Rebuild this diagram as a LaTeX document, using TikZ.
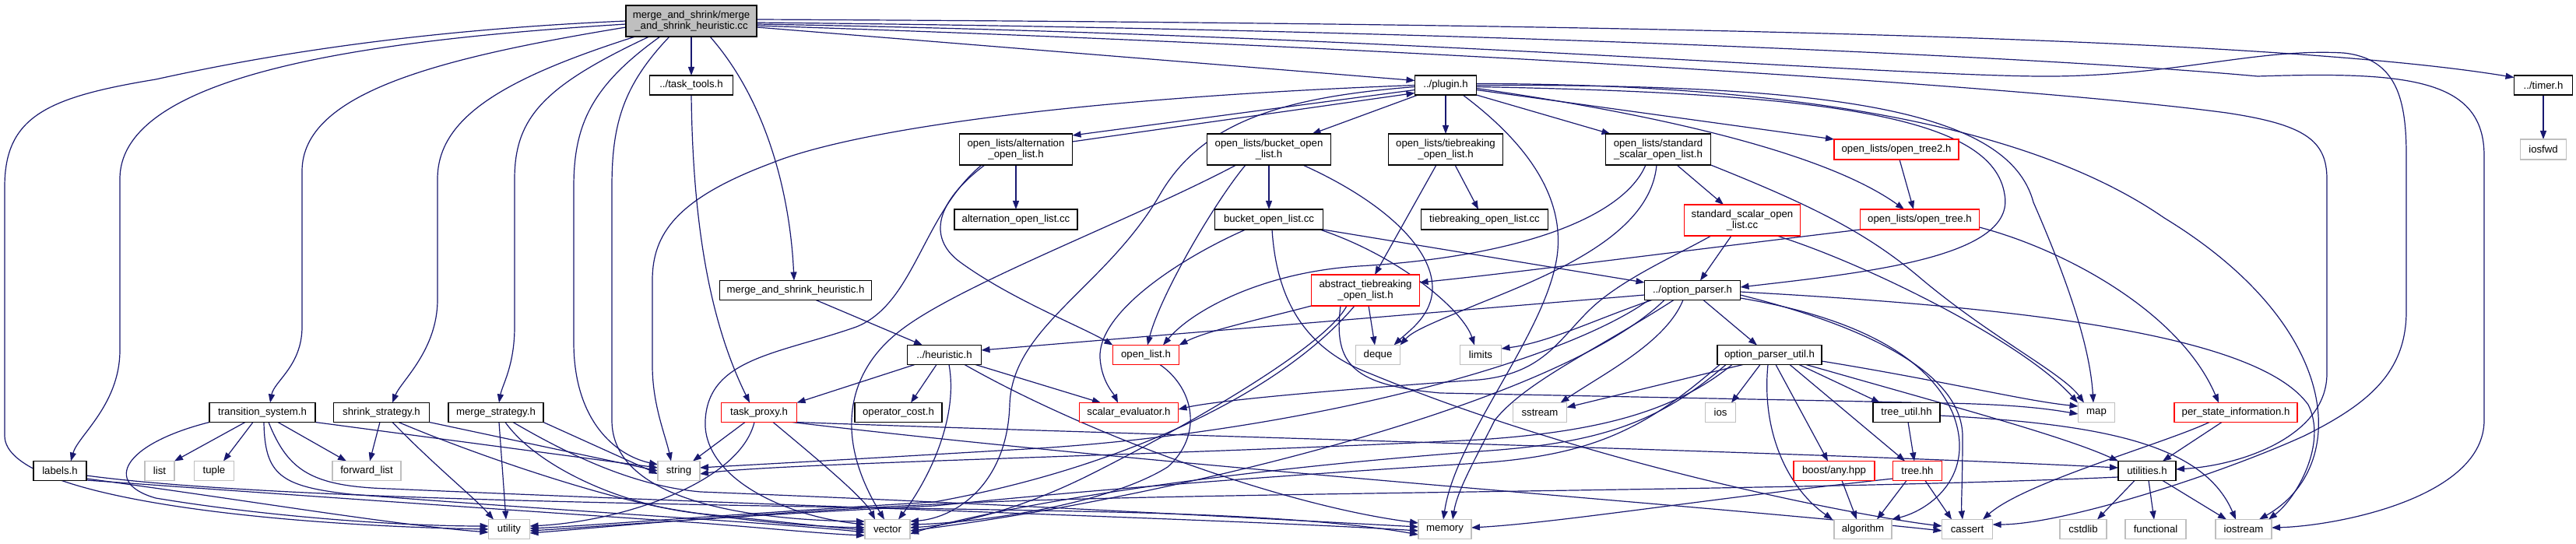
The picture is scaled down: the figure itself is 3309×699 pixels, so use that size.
\documentclass[tikz,border=0pt]{standalone}
\usepackage{fontspec}
\setmainfont{Liberation Sans}
\usetikzlibrary{arrows.meta}
\definecolor{edgec}{HTML}{191970}
\definecolor{grayb}{HTML}{BFBFBF}
\definecolor{redb}{HTML}{FF0000}
\newcommand{\dnf}{\fontsize{6.6pt}{7.3pt}\selectfont}
\pgfdeclarelayer{bg}
\pgfsetlayers{bg,main}
\begin{document}
\begin{tikzpicture}[x=0.5pt,y=-0.5pt,
  box/.style={draw, fill=white, inner sep=0pt, outer sep=0pt, line width=0.7pt, align=center, font=\dnf, minimum height=12.5pt},
  nb/.style={box, draw=black},
  gb/.style={box, draw=grayb},
  rb/.style={box, draw=redb},
  rootb/.style={box, draw=black, fill=grayb},
  dep/.style={draw=edgec, line width=0.6pt, -{Triangle[length=5.5pt,width=4pt]}}]
\useasboundingbox (0,0) rectangle (3309,699);
% nodes
\node[rootb, minimum width=84pt, minimum height=20pt] (root) at (888,27) {merge\_and\_shrink/merge\\\_and\_shrink\_heuristic.cc};
\node[nb, minimum width=53.5pt] (tasktools) at (888,109.5) {../task\_tools.h};
\node[nb, minimum width=39.5pt] (plugin) at (1857,109.5) {../plugin.h};
\node[nb, minimum width=37.5pt] (timer) at (3267,109.5) {../timer.h};
\node[gb, minimum width=29.5pt, minimum height=13pt] (iosfwd) at (3267,192) {iosfwd};
\node[nb, minimum width=72.5pt, minimum height=20pt] (alth) at (1305,192) {open\_lists/alternation\\\_open\_list.h};
\node[nb, minimum width=79.5pt, minimum height=20pt] (bucketh) at (1630,192) {open\_lists/bucket\_open\\\_list.h};
\node[nb, minimum width=73.5pt, minimum height=20pt] (tieh) at (1857,192) {open\_lists/tiebreaking\\\_open\_list.h};
\node[nb, minimum width=67.5pt, minimum height=20pt] (stdh) at (2130,192) {open\_lists/standard\\\_scalar\_open\_list.h};
\node[rb, minimum width=80pt, minimum height=13pt] (tree2) at (2436,192) {open\_lists/open\_tree2.h};
\node[nb, minimum width=79pt, minimum height=13pt] (altcc) at (1305,282) {alternation\_open\_list.cc};
\node[nb, minimum width=69.5pt, minimum height=13pt] (bucketcc) at (1630,282) {bucket\_open\_list.cc};
\node[nb, minimum width=81.5pt, minimum height=13pt] (tiecc) at (1907,282) {tiebreaking\_open\_list.cc};
\node[rb, minimum width=74.5pt, minimum height=20pt] (stdcc) at (2238,283) {standard\_scalar\_open\\\_list.cc};
\node[rb, minimum width=76.5pt, minimum height=13pt] (tree) at (2466,282) {open\_lists/open\_tree.h};
\node[nb, minimum width=97.5pt] (mshh) at (1022,373) {merge\_and\_shrink\_heuristic.h};
\node[rb, minimum width=69.5pt, minimum height=20pt] (absh) at (1754,373) {abstract\_tiebreaking\\\_open\_list.h};
\node[nb, minimum width=61.5pt] (optparser) at (2174,373) {../option\_parser.h};
\node[nb, minimum width=47.5pt] (heuristic) at (1213,456) {../heuristic.h};
\node[rb, minimum width=42.5pt] (openlist) at (1472,456) {open\_list.h};
\node[gb, minimum width=28.5pt] (deque) at (1770,456) {deque};
\node[gb, minimum width=26.5pt] (limits) at (1902,456) {limits};
\node[nb, minimum width=67pt] (optutil) at (2273,456) {option\_parser\_util.h};
\node[nb, minimum width=68pt] (ts) at (337,530) {transition\_system.h};
\node[nb, minimum width=61.5pt] (shrink) at (490,530) {shrink\_strategy.h};
\node[nb, minimum width=61pt] (merge) at (637,530) {merge\_strategy.h};
\node[rb, minimum width=48.5pt] (taskproxy) at (975,530) {task\_proxy.h};
\node[nb, minimum width=56pt] (opcost) at (1154,530) {operator\_cost.h};
\node[rb, minimum width=63.5pt] (scalar) at (1450,530) {scalar\_evaluator.h};
\node[gb, minimum width=34.5pt] (sstream) at (1978,530) {sstream};
\node[gb, minimum width=19.5pt] (ios) at (2210,530) {ios};
\node[nb, minimum width=43pt] (treeutil) at (2449,530) {tree\_util.hh};
\node[gb, minimum width=23.5pt] (map) at (2693,530) {map};
\node[rb, minimum width=79pt] (psi) at (2872,530) {per\_state\_information.h};
\node[nb, minimum width=34pt] (labels) at (77,605) {labels.h};
\node[gb, minimum width=19pt] (list) at (205,605) {list};
\node[gb, minimum width=25.5pt] (tuple) at (275,605) {tuple};
\node[gb, minimum width=44pt] (fwdlist) at (471,605) {forward\_list};
\node[gb, minimum width=27pt] (string) at (872,605) {string};
\node[rb, minimum width=52pt] (boostany) at (2356,605) {boost/any.hpp};
\node[rb, minimum width=31.5pt] (treehh) at (2463,605) {tree.hh};
\node[nb, minimum width=37pt] (utilities) at (2758,605) {utilities.h};
\node[gb, minimum width=26.5pt] (utility) at (654,680) {utility};
\node[gb, minimum width=29pt] (vector) at (1140,680) {vector};
\node[gb, minimum width=34pt] (memory) at (1856,680) {memory};
\node[gb, minimum width=37pt] (algorithm) at (2393,680) {algorithm};
\node[gb, minimum width=32.5pt] (cassert) at (2527,680) {cassert};
\node[gb, minimum width=30pt] (cstdlib) at (2676,680) {cstdlib};
\node[gb, minimum width=39pt] (functional) at (2769,680) {functional};
\node[gb, minimum width=36pt] (iostream) at (2882,680) {iostream};
\begin{pgfonlayer}{bg}
\fill[white] (0,0) rectangle (3309,699);
% root
\draw[dep] (root.west) .. controls (500,40) and (300,80) .. (200,102) .. controls (60,125) and (6,150) .. (6,240) -- (6,560) .. controls (6,640) and (350,675) .. (utility.west);
\draw[dep] ([yshift=-2pt]root.west) .. controls (500,50) and (154,90) .. (154,230) -- (154,450) .. controls (154,520) and (100,560) .. ([xshift=7pt]labels.north);
\draw[dep] ([yshift=-4pt]root.west) .. controls (560,75) and (388,120) .. (388,220) -- (388,420) .. controls (388,470) and (352,490) .. ([xshift=5pt]ts.north);
\draw[dep] ([xshift=6pt]root.south west) .. controls (650,100) and (562,150) .. (562,230) -- (562,385) .. controls (562,450) and (515,490) .. ([xshift=7pt]shrink.north);
\draw[dep] ([xshift=15pt]root.south west) .. controls (700,110) and (661,150) .. (661,230) -- (661,420) .. controls (661,470) and (645,495) .. ([xshift=2pt]merge.north);
\draw[dep] ([xshift=22pt]root.south west) .. controls (760,110) and (737,160) .. (737,240) -- (737,440) .. controls (737,540) and (790,585) .. ([yshift=4pt]string.west);
\draw[dep] ([xshift=28pt]root.south west) .. controls (800,110) and (786,160) .. (786,240) -- (786,540) .. controls (786,640) and (950,668) .. ([yshift=5pt]vector.west);
\draw[dep] (root.south) -- (tasktools.north);
\draw[dep] ([xshift=12pt]root.south) .. controls (985,130) and (1015,250) .. ([xshift=-1pt]mshh.north);
\draw[dep] ([yshift=-4pt]root.east) -- ([yshift=3pt]plugin.west);
\draw[dep] ([yshift=1pt]root.east) .. controls (2000,30) and (2900,45) .. ([yshift=5pt]timer.west);
\draw[dep] ([yshift=-1pt]root.east) .. controls (1900,38) and (2650,75) .. (2900,98) .. controls (3090,92) and (3191,100) .. (3191,200) -- (3191,540) .. controls (3191,640) and (3000,676) .. ([yshift=1pt]iostream.east);
\draw[dep] ([yshift=-2pt]root.east) .. controls (1800,45) and (2450,100) .. (2640,98) .. controls (2800,96) and (2900,62) .. (3010,68) .. controls (3080,75) and (3091,130) .. (3091,200) -- (3091,400) .. controls (3091,480) and (3040,520) .. (2960,560) .. controls (2850,610) and (2650,674) .. ([yshift=3pt]cassert.east);
\draw[dep] ([yshift=-3pt]root.east) .. controls (1800,60) and (2600,110) .. (2860,145) .. controls (2960,160) and (2989,180) .. (2989,230) -- (2989,480) .. controls (2989,560) and (2880,598) .. ([yshift=1pt]utilities.east);
% misc
\draw[dep] (timer.south) -- (iosfwd.north);
\draw[dep] (tasktools.south) .. controls (890,300) and (915,420) .. ([xshift=-6pt]taskproxy.north);
\draw[dep] ([xshift=13pt]mshh.south) -- ([xshift=-14pt]heuristic.north);
% plugin
\draw[dep] ([yshift=-3pt]plugin.west) -- ([yshift=-1pt]alth.north east);
\draw[dep] ([yshift=-5pt]alth.north east) -- ([yshift=-5pt]plugin.west);
\draw[dep] ([xshift=2pt]plugin.south west) -- ([xshift=-12pt]bucketh.north east);
\draw[dep] (plugin.south) -- (tieh.north);
\draw[dep] (plugin.south east) -- ([xshift=3pt]stdh.north west);
\draw[dep] ([yshift=-3pt]plugin.east) -- (tree2.north west);
\draw[dep] ([yshift=-2pt]plugin.east) .. controls (2150,150) and (2350,200) .. ([xshift=-10pt]tree.north);
\draw[dep] ([yshift=-1pt]plugin.east) .. controls (2350,120) and (2560,150) .. (2575,250) .. controls (2590,330) and (2400,350) .. ([yshift=2pt]optparser.east);
\draw[dep] (plugin.west) .. controls (1400,125) and (1100,165) .. (990,210) .. controls (870,255) and (838,300) .. (838,360) -- (838,470) .. controls (838,520) and (855,560) .. ([xshift=-5pt]string.north);
\draw[dep] ([yshift=-1pt]plugin.west) .. controls (1650,125) and (1545,155) .. (1490,250) .. controls (1420,370) and (1300,420) .. (1297,520) .. controls (1294,620) and (1230,665) .. ([yshift=5pt]vector.east);
\draw[dep] ([xshift=11pt]plugin.south) .. controls (1970,190) and (2010,260) .. (2000,330) .. controls (1985,430) and (1870,560) .. ([xshift=-1pt]memory.north);
\draw[dep] (plugin.east) .. controls (2350,108) and (2580,140) .. (2612,260) .. controls (2660,370) and (2685,450) .. ([xshift=-2pt]map.north);
\draw[dep] ([yshift=1pt]plugin.east) .. controls (2400,108) and (2650,190) .. (2780,280) .. controls (3010,420) and (3020,600) .. ([xshift=10pt]iostream.north);
% alternation
\draw[dep] (alth.south) -- (altcc.north);
\draw[dep] ([xshift=-20pt]alth.south) .. controls (1195,265) and (1195,310) .. (1235,338) .. controls (1300,385) and (1390,420) .. (openlist.north west);
\draw[dep] ([xshift=-22pt]alth.south) .. controls (1185,275) and (1175,390) .. (1100,420) .. controls (1000,455) and (910,460) .. (906,540) .. controls (902,610) and (1000,662) .. ([yshift=3pt]vector.west);
% bucket
\draw[dep] (bucketh.south) -- (bucketcc.north);
\draw[dep] ([xshift=-15pt]bucketh.south) .. controls (1560,260) and (1490,380) .. ([xshift=1pt]openlist.north);
\draw[dep] ([xshift=-21pt]bucketh.south) .. controls (1450,285) and (1220,370) .. (1150,430) .. controls (1090,480) and (1070,560) .. ([xshift=-2pt]vector.north);
\draw[dep] ([xshift=-18pt]bucketh.south east) .. controls (1780,260) and (1840,320) .. (1840,370) .. controls (1840,405) and (1810,425) .. ([xshift=-4pt]deque.north east);
\draw[dep] (bucketcc.south east) -- ([yshift=5pt]optparser.west);
\draw[dep] ([xshift=-15pt]bucketcc.south) .. controls (1520,330) and (1410,400) .. (1413,460) .. controls (1415,490) and (1430,505) .. ([xshift=-7pt]scalar.north);
\draw[dep] ([xshift=-2pt]bucketcc.south east) .. controls (1800,330) and (1880,400) .. ([xshift=-4pt]limits.north);
\draw[dep] ([xshift=2pt]bucketcc.south) .. controls (1640,390) and (1680,450) .. (1760,480) .. controls (2050,600) and (2400,665) .. ([yshift=2pt]cassert.west);
% tiebreaking
\draw[dep] ([xshift=6pt]tieh.south) -- ([xshift=-4pt]tiecc.north);
\draw[dep] ([xshift=-6pt]tieh.south) -- ([xshift=6pt]absh.north);
% standard scalar
\draw[dep] ([xshift=12pt]stdh.south) -- ([xshift=-12pt]stdcc.north);
\draw[dep] ([xshift=-8pt]stdh.south) .. controls (2085,280) and (1950,330) .. (1745,342) .. controls (1620,350) and (1530,400) .. ([xshift=11pt]openlist.north);
\draw[dep] ([xshift=-1pt]stdh.south) .. controls (2120,300) and (2000,350) .. (1900,390) .. controls (1840,415) and (1815,425) .. (deque.north east);
\draw[dep] (stdh.south east) .. controls (2330,265) and (2400,300) .. (2470,360) .. controls (2560,435) and (2650,480) .. ([xshift=-8pt]map.north);
\draw[dep] ([xshift=-7pt]stdcc.south) -- ([xshift=5pt]optparser.north);
\draw[dep] ([xshift=-15pt]stdcc.south east) .. controls (2400,340) and (2600,440) .. ([xshift=-12pt]map.north);
\draw[dep] ([xshift=-20pt]stdcc.south) .. controls (2150,330) and (2080,360) .. (2040,400) .. controls (2000,440) and (1980,480) .. (1900,488) .. controls (1700,502) and (1560,515) .. ([yshift=2pt]scalar.east);
% trees
\draw[dep] ([xshift=2pt]tree2.south) -- ([xshift=-4pt]tree.north);
\draw[dep] (tree.south west) .. controls (2100,330) and (1950,350) .. ([yshift=5pt]absh.east);
\draw[dep] ([yshift=-5pt]tree.east) .. controls (2650,320) and (2800,400) .. ([xshift=-11pt]psi.north);
% abstract tiebreaking
\draw[dep] (absh.south west) .. controls (1620,410) and (1550,425) .. (openlist.north east);
\draw[dep] ([xshift=2pt]absh.south) -- ([xshift=-2pt]deque.north);
\draw[dep] ([xshift=-12pt]absh.south) .. controls (1700,450) and (1500,560) .. (1400,610) .. controls (1300,660) and (1220,675) .. ([yshift=1pt]vector.east);
\draw[dep] ([xshift=-7pt]absh.south) .. controls (1650,500) and (1450,600) .. (1200,645) .. controls (950,660) and (750,676) .. ([yshift=0.5pt]utility.east);
\draw[dep] ([xshift=-16pt]absh.south) .. controls (1712,470) and (1740,495) .. (1850,505) -- (2500,518) .. controls (2600,520) and (2640,527) .. ([yshift=-1pt]map.west);
% option parser
\draw[dep] ([yshift=-3pt]optparser.west) -- ([yshift=3pt]heuristic.east);
\draw[dep] ([xshift=7pt]optparser.south) -- ([xshift=-8pt]optutil.north);
\draw[dep] ([xshift=-28pt]optparser.south) .. controls (2000,470) and (1650,560) .. (1300,578) .. controls (1100,590) and (950,598) .. ([yshift=2pt]string.east);
\draw[dep] ([xshift=-26pt]optparser.south) .. controls (2050,410) and (1990,440) .. ([yshift=4pt]limits.east);
\draw[dep] ([xshift=-18pt]optparser.south) .. controls (2000,520) and (1500,640) .. ([yshift=-1pt]vector.east);
\draw[dep] ([xshift=-12pt]optparser.south) .. controls (2050,450) and (1960,490) .. (1920,540) .. controls (1895,590) and (1872,630) .. ([xshift=5pt]memory.north);
\draw[dep] ([xshift=-6pt]optparser.south) .. controls (2140,440) and (2060,480) .. ([xshift=-4pt]sstream.north east);
\draw[dep] ([yshift=-1pt]optparser.east) .. controls (2600,395) and (2900,430) .. (2965,520) .. controls (2990,570) and (2950,640) .. ([xshift=16pt]iostream.north);
\draw[dep] ([yshift=-3pt]optparser.east) .. controls (2400,420) and (2520,480) .. (2521,560) .. controls (2521,620) and (2519,650) .. ([xshift=-3pt]cassert.north);
\draw[dep] ([yshift=-5pt]optparser.east) .. controls (2355,403) and (2470,445) .. (2508,530) .. controls (2540,610) and (2480,655) .. (algorithm.north east);
% option parser util
\draw[dep] ([xshift=-6pt]optutil.south) -- ([xshift=7pt]ios.north);
\draw[dep] ([xshift=-17pt]optutil.south) -- ([yshift=-3pt]sstream.north east);
\draw[dep] ([xshift=19pt]optutil.south) -- ([xshift=-17pt]treeutil.north);
\draw[dep] ([xshift=4pt]optutil.south) -- ([xshift=-4pt]boostany.north);
\draw[dep] ([xshift=13pt]optutil.south) -- ([xshift=-8pt]treehh.north);
\draw[dep] ([xshift=-1pt]optutil.south) .. controls (2262,560) and (2300,630) .. ([xshift=-1pt]algorithm.north west);
\draw[dep] ([yshift=-4pt]optutil.east) .. controls (2500,490) and (2600,515) .. ([yshift=4pt]map.west);
\draw[dep] ([xshift=-10pt]optutil.south east) .. controls (2500,520) and (2650,560) .. (utilities.north west);
\draw[dep] ([xshift=-24pt]optutil.south) .. controls (2150,530) and (2050,555) .. (1900,565) .. controls (1500,585) and (1000,595) .. ([yshift=-2pt]string.east);
\draw[dep] ([xshift=-28pt]optutil.south) .. controls (2130,545) and (2050,570) .. (1900,580) .. controls (1500,610) and (1250,660) .. ([yshift=-3pt]vector.east);
\draw[dep] ([xshift=-32pt]optutil.south) .. controls (2110,555) and (2040,585) .. (1900,595) .. controls (1500,620) and (1300,640) .. (1200,650) .. controls (950,662) and (750,678) .. ([yshift=-1pt]utility.east);
% task proxy
\draw[dep] ([xshift=-9pt]taskproxy.south) -- ([xshift=9pt]string.north);
\draw[dep] ([xshift=-3pt]taskproxy.south) .. controls (950,620) and (800,670) .. ([yshift=2pt]utility.east);
\draw[dep] ([xshift=9pt]taskproxy.south) .. controls (1050,590) and (1110,640) .. ([xshift=-8pt]vector.north);
\draw[dep] (taskproxy.south east) .. controls (1500,560) and (2300,580) .. ([yshift=2pt]utilities.west);
\draw[dep] ([xshift=-3pt]taskproxy.south east) .. controls (1500,600) and (2200,650) .. ([yshift=-1pt]cassert.west);
% heuristic
\draw[dep] ([xshift=-19pt]heuristic.south) -- (taskproxy.north east);
\draw[dep] ([xshift=-5pt]heuristic.south) -- ([xshift=8pt]opcost.north);
\draw[dep] ([xshift=3pt]heuristic.south) .. controls (1232,540) and (1190,620) .. ([xshift=7pt]vector.north);
\draw[dep] ([xshift=20pt]heuristic.south) -- ([xshift=-18pt]scalar.north);
\draw[dep] ([xshift=13pt]heuristic.south) .. controls (1400,560) and (1650,650) .. ([yshift=4pt]memory.west);
% open list
\draw[dep] ([xshift=9pt]openlist.south) .. controls (1535,500) and (1545,560) .. (1500,600) .. controls (1420,650) and (1250,672) .. ([yshift=3pt]vector.east);
% transition system
\draw[dep] ([xshift=-11pt]ts.south) -- (list.north east);
\draw[dep] ([xshift=-6pt]ts.south) -- ([xshift=6pt]tuple.north);
\draw[dep] ([xshift=10pt]ts.south) -- ([xshift=-13pt]fwdlist.north);
\draw[dep] (ts.south west) .. controls (160,570) and (130,620) .. (200,640) .. controls (350,665) and (520,676) .. ([yshift=2pt]utility.west);
\draw[dep] ([xshift=1pt]ts.south) .. controls (340,610) and (360,625) .. (450,635) .. controls (700,655) and (1000,672) .. ([yshift=-2pt]vector.west);
\draw[dep] ([xshift=4pt]ts.south) .. controls (370,605) and (400,625) .. (500,628) .. controls (1000,650) and (1600,668) .. ([yshift=-1pt]memory.west);
\draw[dep] (ts.south east) -- ([yshift=2pt]string.west);
% shrink
\draw[dep] ([xshift=-1pt]shrink.south) -- ([xshift=2pt]fwdlist.north);
\draw[dep] ([xshift=7pt]shrink.south) .. controls (560,600) and (610,640) .. ([xshift=-10pt]utility.north);
\draw[dep] ([xshift=11pt]shrink.south) .. controls (600,580) and (750,632) .. (850,652) .. controls (950,670) and (1050,677) .. ([yshift=1pt]vector.west);
\draw[dep] (shrink.south east) -- (string.west);
% merge
\draw[dep] ([xshift=2pt]merge.south) -- ([xshift=-2pt]utility.north);
\draw[dep] ([xshift=6pt]merge.south) .. controls (690,600) and (800,650) .. (900,660) .. controls (1000,670) and (1060,677) .. ([yshift=-0.5pt]vector.west);
\draw[dep] ([xshift=11pt]merge.south) .. controls (740,590) and (820,625) .. (900,632) .. controls (1300,648) and (1650,668) .. ([yshift=1.5pt]memory.west);
\draw[dep] (merge.south east) -- ([yshift=-2pt]string.west);
% labels
\draw[dep] ([yshift=-5pt]labels.east) .. controls (300,640) and (500,674) .. ([yshift=-2pt]utility.west);
\draw[dep] ([yshift=-3pt]labels.east) .. controls (400,650) and (1200,650) .. (1500,660) .. controls (1650,665) and (1750,674) .. ([yshift=-3.5pt]memory.west);
\draw[dep] ([yshift=-6pt]labels.east) .. controls (500,645) and (800,665) .. (900,672) .. controls (1000,680) and (1060,686) .. ([yshift=-4pt]vector.west);
% utilities
\draw[dep] ([xshift=-8pt]utilities.south) -- ([xshift=9pt]cstdlib.north);
\draw[dep] ([xshift=1pt]utilities.south) -- ([xshift=-1pt]functional.north);
\draw[dep] ([xshift=10pt]utilities.south) -- ([xshift=-11pt]iostream.north);
\draw[dep] ([yshift=-4pt]utilities.west) .. controls (2300,632) and (1500,632) .. (1200,648) .. controls (950,660) and (760,679) .. ([yshift=-2.5pt]utility.east);
% per state information
\draw[dep] ([xshift=-9pt]psi.south) -- ([xshift=10pt]utilities.north);
\draw[dep] ([xshift=-17pt]psi.south) .. controls (2780,570) and (2600,620) .. ([xshift=10pt]cassert.north);
% tree util / tree / boost
\draw[dep] ([xshift=1pt]treeutil.south) -- ([xshift=-2pt]treehh.north);
\draw[dep] ([yshift=-2pt]treeutil.east) .. controls (2700,545) and (2830,570) .. ([xshift=-5pt]iostream.north);
\draw[dep] ([yshift=-5pt]treehh.west) .. controls (2200,640) and (2000,672) .. ([yshift=1pt]memory.east);
\draw[dep] ([xshift=-7pt]treehh.south) -- ([xshift=9pt]algorithm.north);
\draw[dep] ([xshift=5pt]treehh.south) -- ([xshift=-10pt]cassert.north);
\draw[dep] ([xshift=5pt]boostany.south) -- ([xshift=-4pt]algorithm.north);
\end{pgfonlayer}
\end{tikzpicture}
\end{document}
